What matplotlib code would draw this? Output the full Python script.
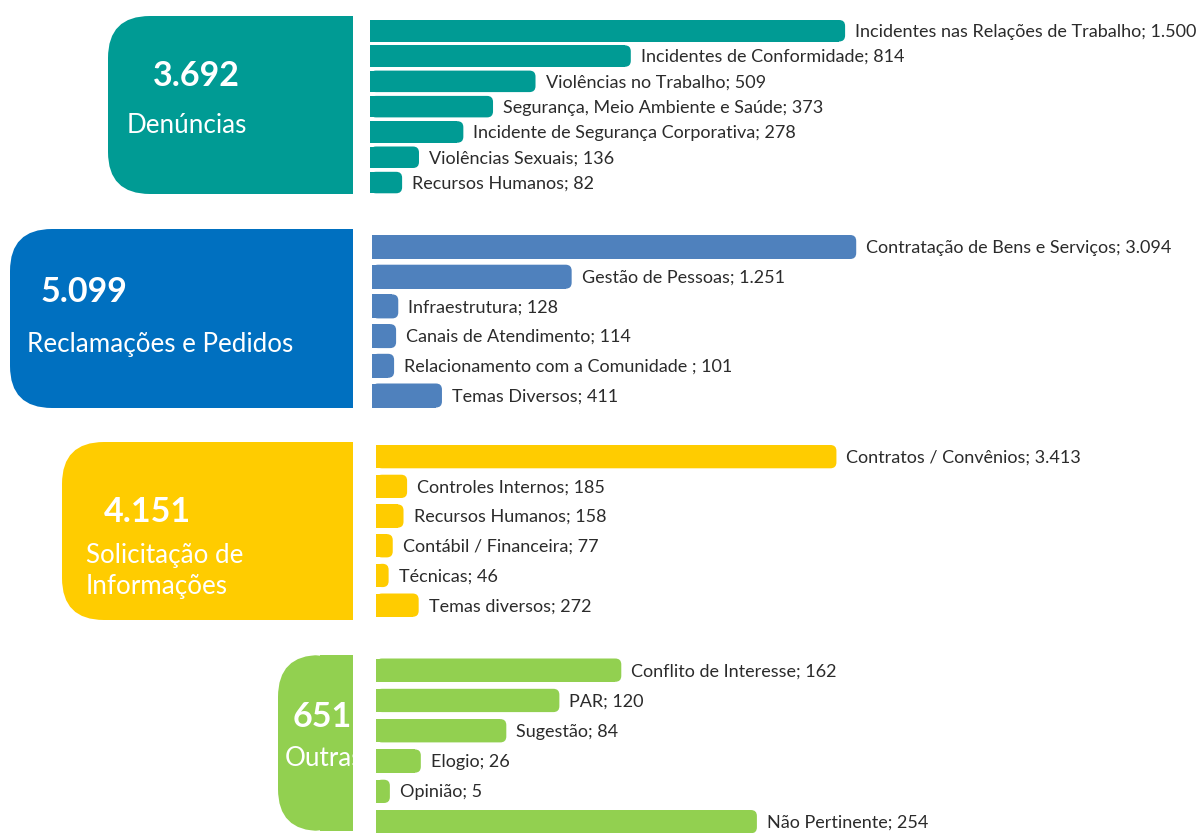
import matplotlib
matplotlib.use("Agg")
import matplotlib.pyplot as plt
from matplotlib.patches import FancyBboxPatch, Rectangle

plt.rcParams['font.family'] = ['Lato', 'DejaVu Sans']

# data
den_labels = ["Incidentes nas Relações de Trabalho", "Incidentes de Conformidade",
              "Violências no Trabalho", "Segurança, Meio Ambiente e Saúde",
              "Incidente de Segurança Corporativa", "Violências Sexuais", "Recursos Humanos"]
den_values = [1500, 814, 509, 373, 278, 136, 82]

rec_labels = ["Contratação de Bens e Serviços", "Gestão de Pessoas", "Infraestrutura",
              "Canais de Atendimento", "Relacionamento com a Comunidade ", "Temas Diversos"]
rec_values = [3094, 1251, 128, 114, 101, 411]

sol_labels = ["Contratos / Convênios", "Controles Internos", "Recursos Humanos",
              "Contábil / Financeira", "Técnicas", "Temas diversos"]
sol_values = [3413, 185, 158, 77, 46, 272]

out_labels = ["Conflito de Interesse", "PAR", "Sugestão", "Elogio", "Opinião", "Não Pertinente"]
out_values = [162, 120, 84, 26, 5, 254]

titles = ["Denúncias", "Reclamações e Pedidos", "Solicitação de\nInformações", "Outras"]


def fmt(v):
    return f"{v:,}".replace(",", ".")


# layout for each group (pixel coords)
groups = [
    dict(labels=den_labels, values=den_values, box_left=108, top=16, bottom=194,
         x0=370, bar_top=20, pitch=25.3, h=21.5, scale=0.3124,
         box_color="#009B94", bar_color="#009B94", num_xy=(153, 86), title_xy=(127, 133)),
    dict(labels=rec_labels, values=rec_values, box_left=10, top=229, bottom=408,
         x0=372, bar_top=235, pitch=29.7, h=24, scale=0.1544,
         box_color="#0070C0", bar_color="#4F81BD", num_xy=(41, 302), title_xy=(27, 352)),
    dict(labels=sol_labels, values=sol_values, box_left=62, top=442, bottom=620,
         x0=376, bar_top=445, pitch=29.7, h=23.3, scale=0.133,
         box_color="#FFCC00", bar_color="#FFCC00", num_xy=(104, 522), title_xy=(86, 563)),
    dict(labels=out_labels, values=out_values, box_left=278, top=655, bottom=831,
         x0=376, bar_top=658.5, pitch=30.3, h=23.3, scale=1.474,
         box_color="#92D050", bar_color="#92D050", num_xy=(293, 727), title_xy=(285, 766)),
]

box_right = 353

fig = plt.figure(figsize=(12.02, 8.33), dpi=100)
ax = fig.add_axes([0, 0, 1, 1])
ax.set_xlim(0, 1202)
ax.set_ylim(833, 0)
ax.axis('off')

for g, title in zip(groups, titles):
    # left box, rounded only on the left side
    hgt = g["bottom"] - g["top"]
    r = 42
    ax.add_patch(FancyBboxPatch((g["box_left"], g["top"]), box_right - g["box_left"], hgt,
                                boxstyle=f"round,pad=0,rounding_size={r}",
                                fc=g["box_color"], ec="none"))
    ax.add_patch(Rectangle((g["box_left"] + r, g["top"]), box_right - g["box_left"] - r, hgt,
                           fc=g["box_color"], ec="none"))
    box_clip = Rectangle((g["box_left"], g["top"]), box_right - g["box_left"], hgt,
                         transform=ax.transData, visible=False)
    ax.add_patch(box_clip)

    total = sum(g["values"])
    t = ax.text(g["num_xy"][0], g["num_xy"][1], fmt(total), color="white",
                fontsize=24.5, fontweight="bold", ha="left", va="baseline")
    t.set_clip_path(box_clip)
    for k, line in enumerate(title.split("\n")):
        t = ax.text(g["title_xy"][0], g["title_xy"][1] + 31 * k, line, color="white",
                    fontsize=18.7, ha="left", va="baseline")
        t.set_clip_path(box_clip)

    # bars with rounded right end
    for i, (lab, v) in enumerate(zip(g["labels"], g["values"])):
        y = g["bar_top"] + i * g["pitch"]
        w = v * g["scale"] + 6.5
        br = 6
        ax.add_patch(FancyBboxPatch((g["x0"], y), w, g["h"],
                                    boxstyle=f"round,pad=0,rounding_size={br}",
                                    fc=g["bar_color"], ec="none"))
        ax.add_patch(Rectangle((g["x0"], y), max(w - br, 0), g["h"],
                               fc=g["bar_color"], ec="none"))
        ax.text(g["x0"] + w + 10, y + g["h"] / 2 + 1, f"{lab}; {fmt(v)}",
                color="#2B2B2B", fontsize=13, ha="left", va="center")

fig.savefig("out.png", dpi=100)
